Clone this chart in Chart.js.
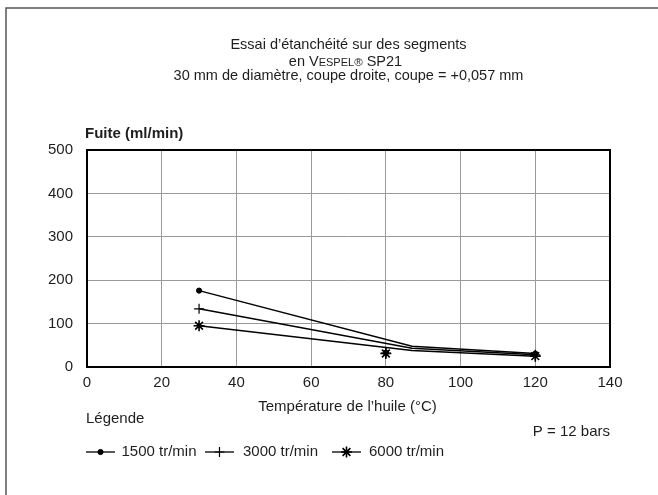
<!DOCTYPE html>
<html lang="fr">
<head>
<meta charset="utf-8">
<title>Essai d'étanchéité – Vespel SP21</title>
<script src="https://cdn.jsdelivr.net/npm/chart.js@4.4.1/dist/chart.umd.min.js"></script>
<style>
  html, body { margin: 0; padding: 0; background: #fff; }
  canvas { display: block; }
</style>
</head>
<body>
<canvas id="chart" width="658" height="495"></canvas>
<script>
// points mesurés : température de l'huile (°C) -> fuite (ml/min)
const temperatures = [30, 80, 120];
const fuite1500 = [176, 33, 31];
const fuite3000 = [134, 32, 28];
const fuite6000 = [95, 31, 25];

// courbes lissées passant par les mesures
const tempsCourbe = [30, 87, 120];
const courbe1500 = [176, 48, 31];
const courbe3000 = [134, 43, 28];
const courbe6000 = [95, 38, 25];

const vitesses = ['1500 tr/min', '3000 tr/min', '6000 tr/min'];
const xTicks = [0, 20, 40, 60, 80, 100, 120, 140];
const yTicks = [0, 100, 200, 300, 400, 500];

const FONT = "'Liberation Sans', Arial, sans-serif";
const INK = '#1e1e1e';

const mesures = [fuite1500, fuite3000, fuite6000];
const courbes = [courbe1500, courbe3000, courbe6000];
const marqueurs = [
  { pointStyle: 'circle', radius: 2.6, borderWidth: 1 },
  { pointStyle: 'cross', radius: 5, borderWidth: 1.2 },
  { pointStyle: 'star', radius: 5.5, borderWidth: 1.6 }
];

const toXY = (xs, ys) => xs.map((x, i) => ({ x: x, y: ys[i] }));

const datasets = [];
courbes.forEach((c, i) => {
  datasets.push({
    label: vitesses[i] + ' (courbe)',
    data: toXY(tempsCourbe, c),
    showLine: true,
    borderColor: '#000',
    borderWidth: 1.5,
    pointRadius: 0,
    tension: 0
  });
});
mesures.forEach((m, i) => {
  const mk = marqueurs[i];
  datasets.push({
    label: vitesses[i],
    data: toXY(temperatures, m),
    showLine: false,
    pointStyle: mk.pointStyle,
    pointRadius: mk.radius,
    pointBorderWidth: mk.borderWidth,
    pointBackgroundColor: '#000',
    pointBorderColor: '#000'
  });
});

function drawMarker(ctx, mk, x, y) {
  ctx.save();
  ctx.fillStyle = '#000';
  ctx.strokeStyle = '#000';
  ctx.lineWidth = mk.borderWidth;
  Chart.helpers.drawPoint(ctx, {
    pointStyle: mk.pointStyle,
    radius: mk.radius,
    rotation: 0,
    borderWidth: mk.borderWidth
  }, x, y);
  ctx.restore();
}

// titre, cadre, légende et annotations autour du graphique
const habillage = {
  id: 'habillage',
  beforeDraw(chart) {
    const ctx = chart.ctx;
    ctx.save();
    ctx.fillStyle = '#fff';
    ctx.fillRect(0, 0, chart.width, chart.height);
    ctx.strokeStyle = '#555';
    ctx.lineWidth = 1.5;
    ctx.strokeRect(6, 8, chart.width + 20, chart.height + 20);
    ctx.restore();
  },
  afterDraw(chart) {
    const ctx = chart.ctx;
    const a = chart.chartArea;
    const cx = (a.left + a.right) / 2;
    ctx.save();

    // cadre du tracé
    ctx.strokeStyle = '#000';
    ctx.lineWidth = 2;
    ctx.strokeRect(a.left, a.top, a.right - a.left, a.bottom - a.top);

    ctx.fillStyle = INK;
    ctx.textBaseline = 'middle';

    // titre
    ctx.font = '14.5px ' + FONT;
    ctx.textAlign = 'center';
    ctx.fillText("Essai d\u2019étanchéité sur des segments", cx, 45);
    ctx.fillText('30 mm de diamètre, coupe droite, coupe = +0,057 mm', cx, 76);

    // deuxième ligne avec petites capitales
    const parts = [
      { t: 'en V', size: 14.5 },
      { t: 'ESPEL', size: 11 },
      { t: '\u00AE', size: 11.5 },
      { t: ' SP21', size: 14.5 }
    ];
    let total = 0;
    parts.forEach(p => {
      ctx.font = p.size + 'px ' + FONT;
      p.w = ctx.measureText(p.t).width;
      total += p.w;
    });
    let px = cx - 3 - total / 2;
    ctx.textAlign = 'left';
    ctx.textBaseline = 'alphabetic';
    parts.forEach(p => {
      ctx.font = p.size + 'px ' + FONT;
      ctx.fillText(p.t, px, 66);
      px += p.w;
    });

    // titres des axes
    ctx.textBaseline = 'middle';
    ctx.font = 'bold 15px ' + FONT;
    ctx.textAlign = 'left';
    ctx.fillText('Fuite (ml/min)', a.left - 2, 134);
    ctx.font = '15px ' + FONT;
    ctx.textAlign = 'center';
    ctx.fillText("Température de l\u2019huile (°C)", cx - 1, 407);

    // légende
    ctx.textAlign = 'left';
    ctx.fillText('Légende', a.left - 1, 419);
    ctx.textAlign = 'right';
    ctx.fillText('P = 12 bars', a.right, 432);

    const ly = 452;
    const items = [
      { x1: 86, x2: 115, tx: 121.5 },
      { x1: 205, x2: 234, tx: 243 },
      { x1: 332, x2: 361, tx: 369 }
    ];
    ctx.textAlign = 'left';
    items.forEach((it, i) => {
      ctx.strokeStyle = '#000';
      ctx.lineWidth = 1.3;
      ctx.beginPath();
      ctx.moveTo(it.x1, ly);
      ctx.lineTo(it.x2, ly);
      ctx.stroke();
      drawMarker(ctx, marqueurs[i], (it.x1 + it.x2) / 2, ly);
      ctx.fillStyle = INK;
      ctx.fillText(vitesses[i], it.tx, ly);
    });

    ctx.restore();
  }
};

new Chart(document.getElementById('chart'), {
  type: 'scatter',
  data: { datasets: datasets },
  options: {
    responsive: false,
    animation: false,
    devicePixelRatio: 1,
    layout: { padding: { left: 0, top: 150, right: 48, bottom: 0 } },
    plugins: {
      legend: { display: false },
      tooltip: { enabled: false },
      title: { display: false }
    },
    scales: {
      x: {
        type: 'linear',
        min: 0,
        max: 140,
        afterBuildTicks: s => { s.ticks = xTicks.map(v => ({ value: v })); },
        afterFit: s => { s.height = 128; },
        grid: { color: '#9a9a9a', lineWidth: 1, drawTicks: false },
        border: { display: false },
        ticks: { padding: 7, color: INK, font: { family: FONT, size: 15 } }
      },
      y: {
        type: 'linear',
        min: 0,
        max: 500,
        afterBuildTicks: s => { s.ticks = yTicks.map(v => ({ value: v })); },
        afterFit: s => { s.width = 87; },
        grid: { color: '#9a9a9a', lineWidth: 1, drawTicks: false },
        border: { display: false },
        ticks: { padding: 14, color: INK, font: { family: FONT, size: 15 } }
      }
    }
  },
  plugins: [habillage]
});
</script>
</body>
</html>
